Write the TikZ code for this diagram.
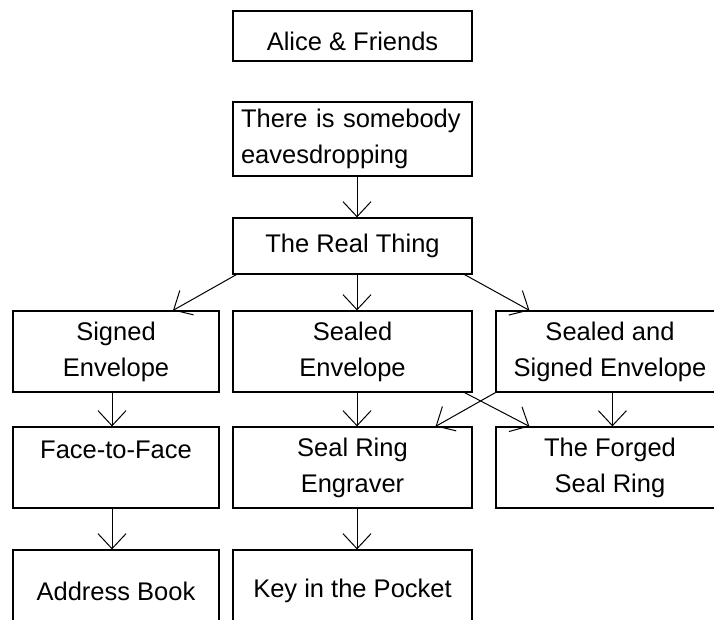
\documentclass[tikz,border=0pt]{standalone}
\usepackage{fontspec}
\setmainfont{Liberation Sans}
\usetikzlibrary{arrows.meta}

\tikzset{
    box/.style={draw, line width=1.2pt, inner sep=0pt, align=center, minimum height=81pt, font=\fontsize{25.5}{36}\selectfont},
    wide/.style={box, minimum width=239pt},
    narrow/.style={box, minimum width=206pt},
    edge/.style={box, minimum width=228pt},
    >={Straight Barb[length=15pt, width=28pt, line width=1pt]}
}

\begin{document}
\begin{tikzpicture}[x=1pt, y=-1pt, line width=1pt]
    \useasboundingbox(0,0)rectangle(714,620);
    \fill[white](0,0)rectangle(714,620);
    \clip(0,0)rectangle(714,620);

    \node[wide, minimum height=50pt, text height=30pt, text depth=0pt](alice)at(352.5,36){Alice \& Friends};
    \node[wide, minimum height=74pt, align=left, text width=223pt, inner xsep=8pt](eaves)at(352.5,139){There is somebody\\eavesdropping};
    \node[wide, minimum height=56pt](real)at(352.5,246){The Real Thing};

    \node[narrow](sign)at(116,351.5){Signed\\Envelope};
    \node[wide](seal)at(352.5,351.5){Sealed\\Envelope};
    \node[edge](both)at(610,351.5){Sealed and\\Signed Envelope};

    \node[narrow](face)at(116,467.5){Face-to-Face\\\phantom{F}};
    \node[wide](engr)at(352.5,467.5){Seal Ring\\Engraver};
    \node[edge](forg)at(610,467.5){The Forged\\Seal Ring};

    \node[narrow, minimum height=82pt](addr)at(116,591){Address Book};
    \node[wide, minimum height=82pt](key)at(352.5,591){Key in the Pocket};

    \draw[->]([xshift=4.5pt]eaves.south)--([xshift=4.5pt]real.north);
    \draw[->]([xshift=4pt]real.south west)--([xshift=57pt]sign.north);
    \draw[->]([xshift=4.5pt]real.south)--([xshift=4.5pt]seal.north);
    \draw[->]([xshift=-8pt]real.south east)--([xshift=34pt]both.north west);

    \draw[->]([xshift=-4pt]sign.south)--([xshift=-4pt]face.north);
    \draw[->]([xshift=4.5pt]seal.south)--([xshift=4.5pt]engr.north);
    \draw[->]([xshift=-8pt]seal.south east)--([xshift=34pt]forg.north west);
    \draw[->](both.south west)--([xshift=-37pt]engr.north east);
    \draw[->]([xshift=117pt]both.south west)--([xshift=117pt]forg.north west);

    \draw[->]([xshift=-4pt]face.south)--([xshift=-4pt]addr.north);
    \draw[->]([xshift=4.5pt]engr.south)--([xshift=4.5pt]key.north);
\end{tikzpicture}
\end{document}
